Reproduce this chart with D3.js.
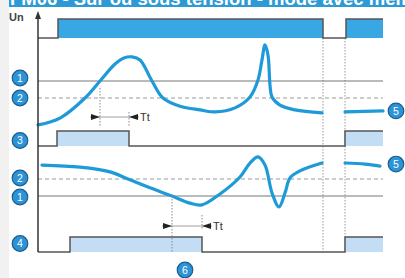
<!DOCTYPE html>
<html>
<head>
<meta charset="utf-8">
<script src="https://cdn.jsdelivr.net/npm/d3@7"></script>
<style>
  body { margin: 0; background: #fff; }
  svg { display: block; font-family: 'Liberation Sans', Arial, sans-serif; }
</style>
</head>
<body>
<svg id="chart" width="405" height="278"></svg>
<script>
// time axis (arbitrary units), thresholds and signals
let title = 'FM06 - Sur ou sous tension - mode avec mémoire'
let supplyEdges = [[0, 0], [20, 1], [285, 0], [308, 1], [345, 1]]
let relay3Edges = [[0, 0], [19, 1], [91, 0], [307, 1], [345, 1]]
let relay4Edges = [[0, 0], [32, 1], [164, 0], [307, 1], [345, 1]]

let overThresholds = [110, 105]   // 1 = seuil, 2 = hystérésis
let underThresholds = [90, 95]

let overCurve1 = [[0, 97.1], [22, 99.1], [47, 105], [62, 110], [77, 115], [86, 116.8], [94, 117.1],
  [102, 116.2], [114, 110], [125, 105], [142, 102.6], [162, 101.5], [177, 100.9], [197, 102.1],
  [212, 105.3], [220, 110.3], [224, 116.2], [227, 120.6], [230, 117.6], [232, 108.8], [234, 105.3],
  [242, 102.9], [257, 101.5], [284, 100.6]]
let overCurve2 = [[307, 100.9], [345, 101.2]]

let underCurve1 = [[4, 99.1], [42, 98.5], [72, 97.1], [90, 95], [112, 92.4], [134, 90], [152, 87.9],
  [164, 87.4], [182, 90.6], [202, 95.6], [212, 99.7], [220, 101.5], [227, 99.1], [234, 90.9],
  [241, 86.8], [247, 90.9], [252, 95.3], [262, 97.4], [284, 99.7]]
let underCurve2 = [[307, 99.7], [327, 99.4], [342, 98.8]]

let overTt = [62, 91]
let underTt = [134, 164]
let supplyGap = [285, 307]

let width = 405
let height = 278
let blue = '#1e9ad8'
let lineGray = '#555'

let svg = d3.select('#chart')

let x = d3.scaleLinear().domain([0, 345]).range([38, 383])
let yOver = d3.scaleLinear().domain([105, 110]).range([98, 81])
let yUnder = d3.scaleLinear().domain([90, 95]).range([196, 179])
let ySupply = d3.scaleLinear().domain([0, 1]).range([38, 19])
let yRel3 = d3.scaleLinear().domain([0, 1]).range([146, 131])
let yRel4 = d3.scaleLinear().domain([0, 1]).range([252, 237])

// background pieces
svg.append('rect').attr('x', 0).attr('y', 0).attr('width', 9).attr('height', height).attr('fill', '#f1f1f1')
svg.append('rect').attr('x', 9).attr('y', 0).attr('width', width - 9).attr('height', 7).attr('fill', '#2d9ad6')
svg.append('text')
    .attr('x', 10)
    .attr('y', 4.5)
    .attr('fill', '#fff')
    .style('font-size', '18.5px')
    .style('font-weight', 'bold')
    .text(title)
svg.append('rect').attr('x', 9).attr('y', 7).attr('width', width - 9).attr('height', 5).attr('fill', '#fff')

// dotted lines at supply cut
svg.selectAll('.cut')
  .data(supplyGap)
  .enter()
  .append('line')
    .attr('x1', d => x(d)).attr('x2', d => x(d))
    .attr('y1', 38).attr('y2', 252)
    .attr('stroke', '#999')
    .attr('stroke-width', 1)
    .attr('stroke-dasharray', '1.5,1.5')

// threshold lines
function thresholds (scale, vals) {
  svg.append('line')
      .attr('x1', x(0)).attr('x2', x(345))
      .attr('y1', scale(vals[0])).attr('y2', scale(vals[0]))
      .attr('stroke', '#777').attr('stroke-width', 1)
  svg.append('line')
      .attr('x1', x(0)).attr('x2', x(345))
      .attr('y1', scale(vals[1])).attr('y2', scale(vals[1]))
      .attr('stroke', '#999').attr('stroke-width', 1)
      .attr('stroke-dasharray', '4,3')
}
thresholds(yOver, overThresholds)
thresholds(yUnder, underThresholds)

// step signals
function steps (edges, scale, fill) {
  let area = d3.area()
      .x(d => x(d[0]))
      .y0(scale(0))
      .y1(d => scale(d[1]))
      .curve(d3.curveStepAfter)
  let line = d3.line()
      .x(d => x(d[0]))
      .y(d => scale(d[1]))
      .curve(d3.curveStepAfter)
  svg.append('path')
      .datum(edges)
      .attr('d', area)
      .attr('fill', fill)
  svg.append('path')
      .datum(edges)
      .attr('d', line)
      .attr('fill', 'none')
      .attr('stroke', lineGray)
      .attr('stroke-width', 1.5)
}
steps(supplyEdges, ySupply, '#38a7e3')
steps(relay3Edges, yRel3, '#c3def4')
steps(relay4Edges, yRel4, '#c3def4')

// voltage curves
function curve (data, scale) {
  svg.append('path')
      .datum(data)
      .attr('d', d3.line()
        .x(d => x(d[0]))
        .y(d => scale(d[1]))
        .curve(d3.curveCatmullRom.alpha(0.5)))
      .attr('fill', 'none')
      .attr('stroke', blue)
      .attr('stroke-width', 3.2)
      .attr('stroke-linecap', 'round')
}
curve(overCurve1, yOver)
curve(overCurve2, yOver)
curve(underCurve1, yUnder)
curve(underCurve2, yUnder)

// Tt dimension marks
function dimension (tt, yLine, dots) {
  dots.forEach((d, i) => {
    svg.append('line')
        .attr('x1', x(tt[i])).attr('x2', x(tt[i]))
        .attr('y1', d[0]).attr('y2', d[1])
        .attr('stroke', '#888')
        .attr('stroke-dasharray', '1.5,1.5')
  })
  svg.append('line')
      .attr('x1', x(tt[0]) - 10).attr('x2', x(tt[1]) + 10)
      .attr('y1', yLine).attr('y2', yLine)
      .attr('stroke', '#888').attr('stroke-width', 0.8)
  svg.append('path')
      .attr('d', `M${x(tt[0])},${yLine} l-9,-3 l0,6 z`)
      .attr('fill', '#222')
  svg.append('path')
      .attr('d', `M${x(tt[1])},${yLine} l9,-3 l0,6 z`)
      .attr('fill', '#222')
  svg.append('text')
      .attr('x', x(tt[1]) + 11)
      .attr('y', yLine + 4)
      .attr('fill', '#333')
      .style('font-size', '11px')
      .text('Tt')
}
dimension(overTt, 117, [[88, 127], [112, 127]])
dimension(underTt, 226, [[196, 252], [215, 229]])

// axis
svg.append('line')
    .attr('x1', 38).attr('x2', 38)
    .attr('y1', 16).attr('y2', 252)
    .attr('stroke', '#333').attr('stroke-width', 1.5)
svg.append('path')
    .attr('d', 'M38,11 l-3,8 l6,0 z')
    .attr('fill', '#333')
svg.append('text')
    .attr('x', 9)
    .attr('y', 21)
    .attr('fill', '#444')
    .style('font-size', '11px')
    .style('font-weight', 'bold')
    .text('Un')

// numbered markers
let markers = [
  { n: 1, cx: 20, cy: yOver(overThresholds[0]) - 3 },
  { n: 2, cx: 20, cy: yOver(overThresholds[1]) },
  { n: 3, cx: 20, cy: yRel3(0.5) + 2 },
  { n: 2, cx: 20, cy: yUnder(underThresholds[1]) - 1 },
  { n: 1, cx: 20, cy: yUnder(underThresholds[0]) + 1 },
  { n: 4, cx: 20, cy: yRel4(0.5) - 1 },
  { n: 5, cx: 396, cy: yOver(overCurve2[1][1]) },
  { n: 5, cx: 396, cy: yUnder(underCurve2[1][1]) },
  { n: 6, cx: x((underTt[0] + underTt[1]) / 2) - 2, cy: 270 }
]

let g = svg.selectAll('.marker')
  .data(markers)
  .enter()
  .append('g')
    .attr('transform', d => `translate(${d.cx}, ${d.cy})`)
g.append('circle')
    .attr('r', 7.8)
    .attr('fill', '#2b93d6')
    .attr('stroke', '#1b5d8f')
    .attr('stroke-width', 1.2)
g.append('text')
    .attr('dy', '0.36em')
    .style('text-anchor', 'middle')
    .style('font-size', '10.5px')
    .attr('fill', '#fff')
    .text(d => d.n)
</script>
</body>
</html>
